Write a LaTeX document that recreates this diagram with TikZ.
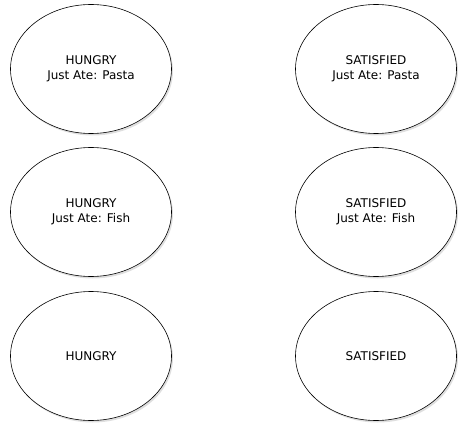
\documentclass[tikz,border=0pt]{standalone}
\usepackage{fontspec}
\setmainfont{DejaVu Sans}
\usetikzlibrary{shapes.geometric,shadows}
\tikzset{state/.style={draw,ellipse,line width=.6pt,fill=white,minimum width=161pt,minimum height=129pt,inner sep=0pt,align=center,font=\fontsize{12}{15}\selectfont,drop shadow={shadow xshift=1.5pt,shadow yshift=-2pt,fill=black!25}}}

\begin{document}
\begin{tikzpicture}[x=1pt,y=1pt]
    \useasboundingbox (0,0) rectangle (465,-430);
    \node[state] (HP) at (91,-69) {HUNGRY\\Just Ate: Pasta};
    \node[state] (SP) at (376,-69) {SATISFIED\\Just Ate: Pasta};
    \node[state] (HF) at (91,-212) {HUNGRY\\Just Ate: Fish};
    \node[state] (SF) at (376,-212) {SATISFIED\\Just Ate: Fish};
    \node[state] (H) at (91,-356) {HUNGRY};
    \node[state] (S) at (376,-356) {SATISFIED};
  \end{tikzpicture}
\end{document}
